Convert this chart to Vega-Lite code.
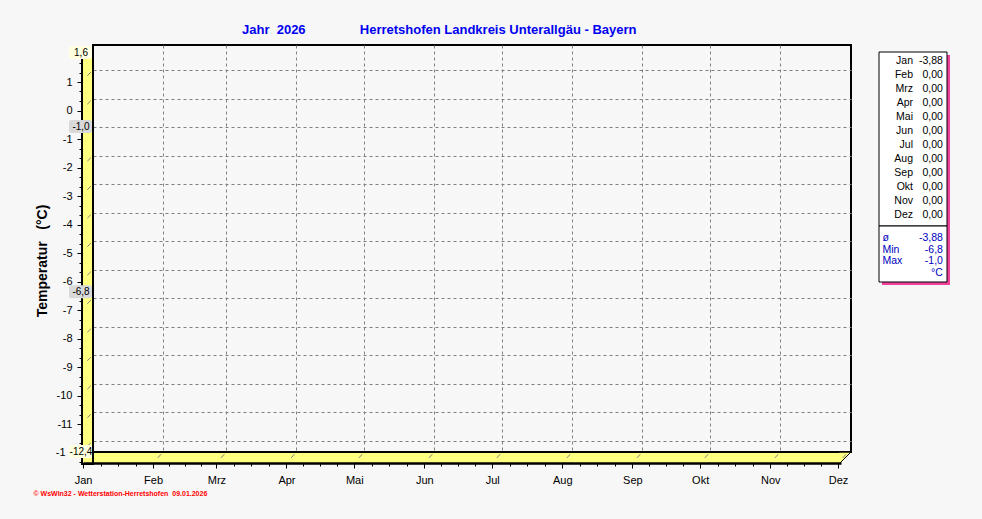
{
  "$schema": "https://vega.github.io/schema/vega-lite/v6.json",
  "width": 758,
  "height": 407,
  "autosize": {"type": "none"},
  "padding": {"left": 93, "top": 45, "right": 131, "bottom": 67},
  "background": "#F7F7F7",
  "config": {
    "view": {"stroke": "#000000", "strokeWidth": 2, "fill": "#F7F7F7"},
    "font": "Liberation Sans",
    "locale": {"number": {"decimal": ",", "thousands": ".", "grouping": [3], "currency": ["", " €"], "minus": "-"}}
  },
  "title": {
    "text": "Jahr\u00a0\u00a02026\u00a0\u00a0\u00a0\u00a0\u00a0\u00a0\u00a0\u00a0\u00a0\u00a0\u00a0\u00a0\u00a0\u00a0\u00a0Herretshofen Landkreis Unterallgäu - Bayern",
    "anchor": "start",
    "frame": "group",
    "dx": 149,
    "offset": 8,
    "font": "Liberation Sans",
    "fontSize": 13,
    "fontWeight": "bold",
    "color": "#0000F0"
  },
  "datasets": {
    "range": [{"lo": -12.4, "hi": 1.6}],
    "markers": [
      {"v": 1.6, "kind": "Achse"},
      {"v": -1.0, "kind": "Max"},
      {"v": -6.8, "kind": "Min"},
      {"v": -12.4, "kind": "Achse"}
    ],
    "months": [
      {"m": "Jan", "day": 0}, {"m": "Feb", "day": 31}, {"m": "Mrz", "day": 59},
      {"m": "Apr", "day": 90}, {"m": "Mai", "day": 120}, {"m": "Jun", "day": 151},
      {"m": "Jul", "day": 181}, {"m": "Aug", "day": 212}, {"m": "Sep", "day": 243},
      {"m": "Okt", "day": 273}, {"m": "Nov", "day": 304}, {"m": "Dez", "day": 334}
    ],
    "levels": [
      {"v": -12}, {"v": -11}, {"v": -10}, {"v": -9}, {"v": -8}, {"v": -7}, {"v": -6},
      {"v": -5}, {"v": -4}, {"v": -3}, {"v": -2}, {"v": -1}, {"v": 0}, {"v": 1}
    ],
    "legend": [
      {"m": "Jan", "val": -3.88}, {"m": "Feb", "val": 0}, {"m": "Mrz", "val": 0},
      {"m": "Apr", "val": 0}, {"m": "Mai", "val": 0}, {"m": "Jun", "val": 0},
      {"m": "Jul", "val": 0}, {"m": "Aug", "val": 0}, {"m": "Sep", "val": 0},
      {"m": "Okt", "val": 0}, {"m": "Nov", "val": 0}, {"m": "Dez", "val": 0}
    ],
    "stats": [
      {"key": "avg", "label": "ø", "txt": "-3,88"},
      {"key": "min", "label": "Min", "txt": "-6,8"},
      {"key": "max", "label": "Max", "txt": "-1,0"},
      {"key": "unit", "label": "", "txt": "°C"}
    ]
  },
  "layer": [
    {
      "resolve": {"axis": {"x": "independent", "y": "independent"}},
      "layer": [
        {
          "data": {"name": "range"},
          "mark": {"type": "rect", "fill": "#FFFF80", "x2Offset": -11, "yOffset": 1, "y2Offset": 11},
          "encoding": {
            "x": {"datum": 0, "type": "quantitative", "scale": {"domain": [0, 335.3], "nice": false, "zero": false},
              "axis": {"grid": true, "gridColor": "#808080", "gridDash": [3, 3], "gridWidth": 1, "values": [31, 59, 90, 120, 151, 181, 212, 243, 273, 304], "labels": false, "ticks": false, "domain": false, "title": null}},
            "x2": {"datum": 335.3},
            "y": {"field": "lo", "type": "quantitative", "scale": {"domain": [-12.4, 1.877], "nice": false, "zero": false},
              "axis": {"grid": true, "gridColor": "#808080", "gridDash": [3, 3], "gridWidth": 1, "values": [-12, -11, -10, -9, -8, -7, -6, -5, -4, -3, -2, -1, 0, 1], "labels": false, "ticks": false, "domain": false, "title": null}},
            "y2": {"field": "lo"}
          }
        },
        {
          "data": {"name": "range"},
          "mark": {"type": "rect", "fill": "#FFFF80", "stroke": "#000000", "strokeWidth": 2, "xOffset": -11, "y2Offset": 12},
          "encoding": {
            "x": {"datum": 0, "type": "quantitative", "scale": {"domain": [0, 335.3], "nice": false, "zero": false}, "axis": null},
            "x2": {"datum": 0},
            "y": {"field": "hi", "type": "quantitative", "scale": {"domain": [-12.4, 1.877], "nice": false, "zero": false}, "axis": null},
            "y2": {"field": "lo"}
          }
        },
        {
          "data": {"name": "range"},
          "mark": {"type": "point", "shape": "M-1,-1L1,-1L-1,1Z", "filled": true, "fill": "#FFFF80", "opacity": 1, "strokeWidth": 0, "size": 132, "xOffset": -6, "yOffset": 6.5},
          "encoding": {
            "x": {"datum": 335.3, "type": "quantitative", "scale": {"domain": [0, 335.3], "nice": false, "zero": false}, "axis": null},
            "y": {"field": "lo", "type": "quantitative", "scale": {"domain": [-12.4, 1.877], "nice": false, "zero": false}, "axis": null}
          }
        },
        {
          "data": {"name": "range"},
          "mark": {"type": "rule", "color": "#000000", "strokeWidth": 1, "x2Offset": -11, "y2Offset": 11},
          "encoding": {
            "x": {"datum": 335.3, "type": "quantitative", "scale": {"domain": [0, 335.3], "nice": false, "zero": false},
              "axis": {"orient": "bottom", "offset": 11, "position": -10, "values": [7.75, 15.5, 23.25, 38, 45, 52, 66.75, 74.5, 82.25, 97.5, 105, 112.5, 127.75, 135.5, 143.25, 158.5, 166, 173.5, 188.75, 196.5, 204.25, 219.75, 227.5, 235.25, 250.5, 258, 265.5, 280.75, 288.5, 296.25, 311.5, 319, 326.5], "labels": false, "domain": false, "grid": false, "ticks": true, "tickSize": 3, "tickColor": "#000000", "title": null, "zindex": 1}},
            "x2": {"datum": 335.3},
            "y": {"field": "lo", "type": "quantitative", "scale": {"domain": [-12.4, 1.877], "nice": false, "zero": false},
              "axis": {"orient": "left", "offset": 11, "position": 12, "values": [-12.333, -11.667, -11.333, -10.667, -10.333, -9.667, -9.333, -8.667, -8.333, -7.667, -7.333, -6.667, -6.333, -5.667, -5.333, -4.667, -4.333, -3.667, -3.333, -2.667, -2.333, -1.667, -1.333, -0.667, -0.333, 0.333, 0.667, 1.333, 1.667], "labels": false, "domain": false, "grid": false, "ticks": true, "tickSize": 3, "tickColor": "#000000", "title": null}},
            "y2": {"field": "lo"}
          }
        },
        {
          "data": {"name": "months"},
          "mark": {"type": "rule", "color": "#808080", "strokeWidth": 1, "strokeDash": [0, 3, 5, 30], "x2Offset": -10, "y2Offset": 11},
          "encoding": {
            "x": {"field": "day", "type": "quantitative", "scale": {"domain": [0, 335.3], "nice": false, "zero": false},
              "axis": {
                "orient": "bottom", "offset": 11, "position": -10,
                "values": [0, 31, 59, 90, 120, 151, 181, 212, 243, 273, 304, 334],
                "labelExpr": "['Jan','Feb','Mrz','Apr','Mai','Jun','Jul','Aug','Sep','Okt','Nov','Dez'][indexof([0,31,59,90,120,151,181,212,243,273,304,334], datum.value)]",
                "labelFlush": false, "labelOverlap": false, "labelBound": false,
                "labelFont": "Liberation Sans", "labelFontSize": 11, "labelColor": "#000000", "labelPadding": 6,
                "tickSize": 5, "tickColor": "#000000", "tickWidth": 1,
                "domain": true, "domainColor": "#000000", "domainWidth": 2.5,
                "grid": false, "zindex": 1,
                "title": "© WsWin32 - Wetterstation-Herretshofen\u00a0\u00a009.01.2026",
                "titleColor": "#FF0000", "titleFont": "Liberation Sans", "titleFontSize": 7, "titleFontWeight": "bold",
                "titleX": -50, "titleY": 30, "titleAlign": "left", "titleBaseline": "middle", "titleAngle": 0
              }},
            "x2": {"field": "day"},
            "y": {"datum": -12.4, "type": "quantitative", "scale": {"domain": [-12.4, 1.877], "nice": false, "zero": false}, "axis": null},
            "y2": {"datum": -12.4}
          }
        },
        {
          "data": {"name": "levels"},
          "mark": {"type": "rule", "color": "#808080", "strokeWidth": 1, "strokeDash": [0, 3, 5, 30], "x2Offset": -12, "y2Offset": 12},
          "encoding": {
            "x": {"datum": 0, "type": "quantitative", "scale": {"domain": [0, 335.3], "nice": false, "zero": false}, "axis": null},
            "x2": {"datum": 0},
            "y": {"field": "v", "type": "quantitative", "scale": {"domain": [-12.4, 1.877], "nice": false, "zero": false},
              "axis": {
                "orient": "left", "offset": 11, "position": 12,
                "values": [-12, -11, -10, -9, -8, -7, -6, -5, -4, -3, -2, -1, 0, 1],
                "labelExpr": "datum.value == -12 ? '-1' : '' + datum.value",
                "labelFont": "Liberation Sans", "labelFontSize": 11, "labelColor": "#000000",
                "labelPadding": {"condition": {"test": "datum.value == -12", "value": 12}, "value": 5},
                "tickSize": 5, "tickColor": "#000000", "tickWidth": 1,
                "domain": false, "grid": false,
                "title": "Temperatur\u00a0\u00a0\u00a0(°C)",
                "titleFont": "Liberation Sans", "titleFontSize": 14, "titleFontWeight": "bold", "titleColor": "#000000", "titlePadding": 6
              }},
            "y2": {"field": "v"}
          }
        },
        {
          "data": {"name": "markers"},
          "mark": {"type": "rect", "cornerRadius": 2, "xOffset": -24, "x2Offset": -1, "yOffset": -7, "y2Offset": 6},
          "encoding": {
            "x": {"datum": 0, "type": "quantitative", "scale": {"domain": [0, 335.3], "nice": false, "zero": false}, "axis": null},
            "x2": {"datum": 0},
            "y": {"field": "v", "type": "quantitative", "scale": {"domain": [-12.4, 1.877], "nice": false, "zero": false}, "axis": null},
            "y2": {"field": "v"},
            "color": {"field": "kind", "type": "nominal", "scale": {"domain": ["Achse", "Max", "Min"], "range": ["#FFFFE1", "#D9D9D9", "#D9D9D9"]}, "legend": null}
          }
        },
        {
          "data": {"name": "markers"},
          "mark": {"type": "text", "xOffset": -12, "font": "Liberation Sans", "fontSize": 10, "align": "center", "baseline": "middle", "color": "#000000"},
          "encoding": {
            "x": {"datum": 0, "type": "quantitative", "scale": {"domain": [0, 335.3], "nice": false, "zero": false}, "axis": null},
            "y": {"field": "v", "type": "quantitative", "scale": {"domain": [-12.4, 1.877], "nice": false, "zero": false}, "axis": null},
            "text": {"field": "v", "type": "quantitative", "format": ".1f"}
          }
        }
      ]
    },
    {
      "resolve": {"scale": {"y": "independent"}},
      "layer": [
        {
          "data": {"name": "range"},
          "mark": {"type": "rect", "fill": "#F0409C", "xOffset": 3, "yOffset": 3},
          "encoding": {
            "x": {"datum": "L", "type": "nominal", "scale": {"type": "band", "domain": ["L"], "range": [786, 854], "paddingInner": 0, "paddingOuter": 0}, "axis": null},
            "y": {"datum": "a", "type": "nominal", "scale": {"type": "band", "domain": ["a"], "range": [7, 237], "paddingInner": 0, "paddingOuter": 0}, "axis": null}
          }
        },
        {
          "data": {"name": "range"},
          "mark": {"type": "rect", "fill": "#FFFFFF", "stroke": "#000000", "strokeWidth": 1},
          "encoding": {
            "x": {"datum": "L", "type": "nominal", "scale": {"type": "band", "domain": ["L"], "range": [786, 854], "paddingInner": 0, "paddingOuter": 0}, "axis": null},
            "y": {"datum": "m", "type": "nominal", "scale": {"type": "band", "domain": ["m"], "range": [7, 181], "paddingInner": 0, "paddingOuter": 0}, "axis": null}
          }
        },
        {
          "data": {"name": "range"},
          "mark": {"type": "rect", "fill": "#FFFFFF", "stroke": "#000000", "strokeWidth": 1},
          "encoding": {
            "x": {"datum": "L", "type": "nominal", "scale": {"type": "band", "domain": ["L"], "range": [786, 854], "paddingInner": 0, "paddingOuter": 0}, "axis": null},
            "y": {"datum": "s", "type": "nominal", "scale": {"type": "band", "domain": ["s"], "range": [181, 237], "paddingInner": 0, "paddingOuter": 0}, "axis": null}
          }
        },
        {
          "data": {"name": "legend"},
          "mark": {"type": "text", "align": "right", "baseline": "middle", "font": "Liberation Sans", "fontSize": 10.5, "color": "#000000"},
          "encoding": {
            "x": {"datum": "L", "type": "nominal", "bandPosition": 0.5, "scale": {"type": "band", "domain": ["L"], "range": [786, 854], "paddingInner": 0, "paddingOuter": 0}, "axis": null},
            "y": {"field": "m", "type": "nominal", "scale": {"type": "point", "domain": ["Jan", "Feb", "Mrz", "Apr", "Mai", "Jun", "Jul", "Aug", "Sep", "Okt", "Nov", "Dez"], "range": [15.7, 169.7], "padding": 0}, "axis": null},
            "text": {"field": "m"}
          }
        },
        {
          "data": {"name": "legend"},
          "mark": {"type": "text", "align": "right", "baseline": "middle", "font": "Liberation Sans", "fontSize": 10.5, "color": "#000000"},
          "encoding": {
            "x": {"datum": "L", "type": "nominal", "bandPosition": 0.94, "scale": {"type": "band", "domain": ["L"], "range": [786, 854], "paddingInner": 0, "paddingOuter": 0}, "axis": null},
            "y": {"field": "m", "type": "nominal", "scale": {"type": "point", "domain": ["Jan", "Feb", "Mrz", "Apr", "Mai", "Jun", "Jul", "Aug", "Sep", "Okt", "Nov", "Dez"], "range": [15.7, 169.7], "padding": 0}, "axis": null},
            "text": {"field": "val", "type": "quantitative", "format": ".2f"}
          }
        },
        {
          "data": {"name": "stats"},
          "mark": {"type": "text", "align": "left", "baseline": "middle", "font": "Liberation Sans", "fontSize": 10.5, "color": "#0000C0"},
          "encoding": {
            "x": {"datum": "L", "type": "nominal", "bandPosition": 0.05, "scale": {"type": "band", "domain": ["L"], "range": [786, 854], "paddingInner": 0, "paddingOuter": 0}, "axis": null},
            "y": {"field": "key", "type": "nominal", "scale": {"type": "point", "domain": ["avg", "min", "max", "unit"], "range": [193, 228], "padding": 0}, "axis": null},
            "text": {"field": "label"}
          }
        },
        {
          "data": {"name": "stats"},
          "mark": {"type": "text", "align": "right", "baseline": "middle", "font": "Liberation Sans", "fontSize": 10.5, "color": "#0000C0"},
          "encoding": {
            "x": {"datum": "L", "type": "nominal", "bandPosition": 0.94, "scale": {"type": "band", "domain": ["L"], "range": [786, 854], "paddingInner": 0, "paddingOuter": 0}, "axis": null},
            "y": {"field": "key", "type": "nominal", "scale": {"type": "point", "domain": ["avg", "min", "max", "unit"], "range": [193, 228], "padding": 0}, "axis": null},
            "text": {"field": "txt"}
          }
        }
      ]
    }
  ],
  "resolve": {"scale": {"x": "independent", "y": "independent"}}
}
